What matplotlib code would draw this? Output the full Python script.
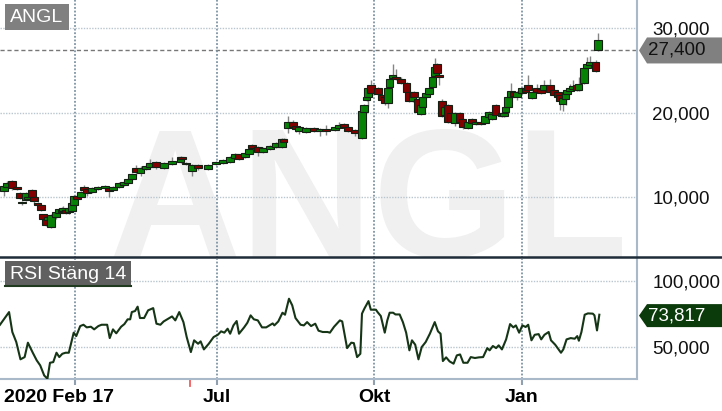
import matplotlib
matplotlib.use("Agg")
import matplotlib.pyplot as plt
from matplotlib.patches import Rectangle, Polygon
from matplotlib.lines import Line2D
from matplotlib.transforms import IdentityTransform, blended_transform_factory
from matplotlib.ticker import FuncFormatter

plt.rcParams['font.family'] = ['Liberation Sans', 'DejaVu Sans']

ticker = "ANGL"
rsi_title = "RSI Stäng 14"
start_label = "2020 Feb 17"
month_days = [32.3, 93.3, 160.9, 224.5]
month_labels = ["", "Jul", "Okt", "Jan"]
event_days = [81.7]
price_ticks = [10, 20, 30]
rsi_ticks = [50, 100]
last_price = 27.4
last_rsi = 73.817

# daily candles (trading-day index)
candle_day = [1.7, 3.0, 5.2, 7.3, 8.6, 9.5, 11.2, 12.0, 13.8, 14.6, 16.3, 17.6, 18.5, 19.8, 20.6,
              21.9, 24.1, 25.4, 26.7, 27.1, 28.4, 29.7, 31.0, 31.8, 33.1, 34.8, 36.1, 37.4, 39.6,
              42.1, 45.2, 46.9, 48.6, 51.2, 53.3, 55.1, 56.8, 58.5, 60.6, 62.8, 64.5, 67.1, 70.5,
              74.0, 77.8, 78.3, 80.0, 82.6, 85.2, 89.5, 92.9, 95.9, 98.9, 101.1, 102.8, 105.4,
              107.1, 108.4, 111.0, 113.1, 116.1, 118.7, 121.3, 122.1, 123.9, 126.0, 127.3, 128.6,
              131.6, 135.1, 137.6, 140.2, 144.1, 145.8, 148.0, 149.7, 152.7, 155.7, 156.6, 157.8,
              158.3, 159.6, 162.6, 164.3, 165.6, 166.9, 167.7, 169.0, 170.3, 172.5, 175.0, 175.9,
              177.6, 178.1, 179.8, 181.1, 181.9, 183.2, 184.5, 186.2, 187.1, 188.0, 188.8, 190.1,
              191.4, 192.7, 194.0, 195.7, 197.8, 199.1, 201.3, 203.0, 204.7, 206.9, 208.6, 210.3,
              211.6, 213.3, 215.9, 216.8, 217.6, 218.5, 219.8, 221.1, 222.4, 224.5, 226.2, 227.1,
              228.8, 231.0, 232.7, 234.0, 236.6, 238.3, 240.0, 240.9, 242.1, 243.4, 243.9, 245.2,
              246.4, 248.2, 249.0, 251.2, 252.5, 253.8, 256.3, 257.2]
candle_open = [10.77, 11.24, 11.95, 11.24, 10.53, 9.47, 9.70, 9.82, 10.89, 10.06, 9.35, 9.11, 8.05,
               7.46, 7.34, 6.51, 7.69, 8.17, 8.52, 8.40, 8.52, 8.28, 8.40, 9.11, 10.18, 10.06, 11.24,
               11.01, 10.65, 11.01, 11.12, 11.12, 10.89, 11.24, 11.48, 11.72, 12.19, 13.49, 12.90,
               13.37, 13.61, 14.20, 13.49, 13.96, 14.20, 14.79, 14.08, 13.14, 13.85, 13.37, 13.96,
               14.08, 14.20, 14.67, 15.15, 14.79, 15.15, 16.21, 15.98, 15.38, 15.74, 15.98, 15.98,
               16.92, 18.22, 18.93, 18.46, 17.87, 17.75, 18.22, 17.87, 18.11, 17.99, 18.22, 18.70,
               18.34, 17.99, 17.04, 20.12, 21.54, 21.89, 23.31, 22.96, 22.13, 21.89, 21.18, 23.08,
               24.14, 24.26, 24.02, 23.55, 22.49, 21.42, 22.49, 21.66, 19.88, 20.71, 21.89, 22.25,
               23.08, 24.38, 25.80, 24.50, 21.42, 19.76, 20.95, 20.00, 18.82, 20.00, 19.29, 18.22,
               19.29, 18.70, 18.93, 18.82, 19.53, 19.29, 20.95, 20.00, 19.64, 20.12, 20.71, 21.89,
               22.49, 21.89, 22.37, 22.96, 23.31, 21.78, 22.96, 22.84, 22.72, 23.31, 22.72, 22.49,
               22.13, 21.07, 21.66, 22.25, 22.60, 22.84, 23.31, 22.72, 23.55, 25.33, 25.68, 26.04,
               27.45]
candle_close = [11.36, 11.72, 11.12, 11.01, 9.94, 9.35, 10.53, 10.06, 10.06, 9.59, 9.11, 8.52, 7.46,
                6.75, 7.69, 7.93, 8.28, 8.64, 8.28, 8.76, 8.17, 8.76, 9.35, 10.18, 9.82, 10.65, 10.89,
                10.53, 11.12, 11.24, 11.36, 10.77, 11.24, 11.72, 11.83, 12.19, 12.78, 13.02, 13.49,
                13.73, 14.08, 13.61, 14.08, 14.32, 14.79, 14.56, 13.96, 13.85, 13.49, 13.85, 14.20,
                14.44, 14.79, 15.15, 14.56, 15.27, 15.74, 15.86, 15.38, 15.86, 16.09, 16.45, 16.92,
                16.57, 18.93, 18.34, 18.11, 18.34, 18.22, 17.87, 18.11, 17.87, 18.34, 18.58, 18.34,
                17.87, 17.63, 20.24, 20.95, 21.89, 22.96, 22.37, 22.25, 21.54, 21.18, 22.96, 24.02,
                24.50, 24.02, 23.55, 22.49, 21.42, 22.37, 21.89, 20.12, 20.95, 21.89, 22.37, 22.96,
                24.26, 25.45, 24.73, 24.26, 19.64, 20.71, 18.93, 18.93, 20.00, 18.93, 18.34, 18.93,
                18.82, 18.93, 18.70, 19.64, 20.12, 19.88, 19.76, 19.64, 20.00, 20.71, 21.89, 22.60,
                22.01, 22.49, 22.96, 22.49, 22.72, 22.49, 22.49, 22.37, 23.31, 22.49, 22.13, 21.89,
                21.42, 21.78, 22.37, 22.72, 22.96, 23.20, 22.72, 23.43, 25.33, 25.80, 26.04, 24.97,
                28.64]
candle_high = [11.60, 11.95, 12.10, 11.30, 10.65, 9.60, 10.65, 10.20, 11.00, 10.10, 9.50, 9.20, 8.10,
               7.50, 7.80, 8.00, 8.40, 8.80, 8.90, 9.00, 8.60, 9.00, 9.40, 10.30, 10.25, 10.80, 11.50,
               11.10, 11.20, 11.35, 11.45, 11.20, 11.35, 11.80, 11.95, 12.30, 12.90, 13.80, 13.70,
               13.85, 14.50, 14.30, 14.20, 14.80, 14.90, 14.85, 14.20, 14.00, 13.95, 14.00, 14.30,
               14.55, 14.90, 15.25, 15.20, 15.40, 15.90, 16.30, 16.05, 15.95, 16.20, 16.55, 17.00,
               17.00, 19.60, 19.20, 18.60, 18.45, 18.35, 18.40, 18.20, 18.60, 18.45, 18.90, 18.80,
               18.45, 18.10, 20.30, 21.10, 22.00, 23.10, 23.90, 23.10, 22.20, 22.00, 23.10, 24.20,
               25.80, 25.20, 24.30, 23.70, 22.60, 22.50, 22.60, 21.80, 21.10, 22.00, 22.50, 23.10,
               24.40, 26.50, 25.90, 24.60, 21.60, 20.90, 21.10, 20.10, 20.10, 20.10, 19.40, 19.00,
               19.40, 19.00, 19.00, 19.75, 20.25, 20.00, 21.05, 20.10, 20.10, 21.00, 22.20, 23.50,
               22.60, 22.60, 23.10, 23.05, 24.50, 22.60, 23.40, 22.95, 23.90, 24.00, 22.80, 22.60,
               22.20, 21.90, 22.50, 22.85, 23.40, 23.90, 23.40, 24.20, 25.60, 26.60, 26.80, 26.30,
               29.47]
candle_low = [10.18, 11.10, 10.90, 10.90, 9.80, 9.10, 9.60, 9.70, 10.00, 9.20, 9.00, 8.40, 7.30,
              6.60, 7.20, 6.39, 7.40, 8.00, 8.20, 8.30, 8.00, 8.10, 8.30, 9.00, 9.75, 10.00, 10.80,
              10.20, 10.50, 10.90, 11.00, 10.10, 10.80, 11.10, 11.40, 11.60, 12.10, 12.70, 12.50,
              13.20, 13.50, 13.40, 13.40, 13.80, 14.10, 14.40, 13.80, 12.50, 13.20, 13.30, 13.90,
              14.00, 14.10, 14.60, 14.40, 14.70, 15.10, 15.70, 14.90, 15.30, 15.60, 15.90, 15.90,
              16.50, 17.60, 18.20, 17.70, 17.50, 17.60, 17.70, 17.30, 17.40, 17.90, 18.10, 18.20,
              17.80, 17.30, 16.90, 20.00, 21.40, 20.80, 22.20, 22.10, 21.40, 21.00, 20.60, 22.90,
              24.00, 23.90, 23.40, 22.30, 21.30, 21.30, 21.70, 20.00, 19.80, 20.60, 21.80, 22.10,
              23.00, 24.30, 24.60, 23.30, 19.50, 19.60, 18.80, 18.80, 18.50, 18.80, 18.10, 18.10,
              18.70, 18.60, 18.60, 18.70, 19.40, 19.20, 19.70, 19.50, 19.50, 20.00, 20.60, 21.80,
              21.90, 21.50, 22.30, 22.40, 22.60, 21.70, 22.40, 22.30, 22.60, 22.40, 22.00, 21.80,
              20.40, 20.20, 21.00, 22.10, 22.50, 22.70, 22.60, 22.60, 23.40, 25.20, 25.55, 24.80,
              27.30]

rsi_day = [0.0, 3.9, 5.3, 7.0, 8.8, 10.6, 12.0, 14.1, 15.8, 17.3, 19.0, 20.4, 21.5, 22.9, 24.3,
           25.5, 26.8, 28.2, 29.6, 31.0, 31.7, 32.8, 34.5, 35.9, 37.3, 39.1, 40.5, 42.3, 43.7,
           46.1, 47.2, 48.6, 50.0, 52.1, 53.5, 54.9, 56.0, 56.7, 58.1, 59.2, 60.2, 62.0, 63.7,
           65.9, 67.3, 69.0, 70.4, 74.0, 75.4, 77.1, 78.9, 80.3, 82.1, 83.5, 85.2, 86.3, 87.7,
           89.8, 91.9, 93.7, 95.1, 96.5, 97.9, 99.0, 100.4, 101.8, 102.8, 105.0, 106.4, 107.8,
           109.2, 110.9, 112.7, 114.5, 115.9, 117.3, 118.0, 119.7, 121.5, 122.6, 124.3, 125.7,
           127.1, 129.3, 130.7, 132.1, 133.8, 135.6, 137.0, 138.8, 140.9, 141.9, 143.7, 146.2,
           147.2, 149.3, 151.1, 152.2, 153.6, 155.0, 155.7, 156.7, 158.5, 159.5, 161.7, 162.4,
           163.8, 165.5, 166.6, 167.6, 169.1, 170.1, 171.9, 173.3, 174.7, 176.1, 177.2, 178.6,
           180.0, 181.4, 183.1, 184.9, 187.0, 188.4, 189.5, 190.5, 191.9, 193.4, 195.1, 196.5,
           197.9, 199.3, 201.1, 202.5, 204.3, 206.0, 207.8, 209.6, 210.6, 212.0, 213.4, 214.5,
           215.9, 217.7, 219.4, 220.8, 221.9, 223.3, 224.7, 226.1, 227.2, 228.6, 230.0, 231.7,
           232.8, 234.2, 236.0, 237.0, 238.8, 241.3, 242.3, 243.7, 245.5, 247.2, 248.3, 249.0,
           250.1, 251.5, 252.9, 255.0, 255.7, 256.8, 257.8]
rsi_value = [66.9, 76.5, 61.4, 53.8, 40.7, 42.4, 53.3, 45.7, 39.9, 36.1, 28.5, 26.0, 38.1, 38.6, 45.7,
             42.4, 44.9, 45.7, 45.7, 55.8, 60.9, 58.3, 65.9, 66.9, 64.9, 65.4, 63.4, 65.9, 66.9,
             66.9, 56.8, 63.4, 60.4, 65.4, 67.4, 71.0, 71.0, 76.5, 77.3, 80.6, 72.0, 72.0, 77.8,
             79.5, 67.7, 66.9, 69.4, 73.2, 70.2, 76.5, 68.9, 57.6, 46.2, 55.1, 52.5, 54.3, 48.2,
             52.5, 57.6, 59.3, 61.9, 60.9, 63.9, 60.1, 66.4, 69.7, 60.1, 64.9, 68.4, 74.0,
             71.0, 70.2, 64.9, 64.9, 66.4, 67.9, 66.4, 69.4, 76.0, 74.5, 86.6, 81.6,
             72.0, 66.9, 66.4, 68.9, 65.9, 67.7, 62.4, 61.4, 61.4, 60.9, 65.4, 70.2,
             69.4, 49.2, 53.3, 53.0, 42.4, 44.9, 75.3, 79.0, 84.8, 78.3, 78.3, 76.5,
             73.5, 60.9, 70.2, 76.0, 76.0, 74.7, 74.7, 68.9, 60.9, 47.5, 55.1, 51.8,
             40.7, 50.0, 53.8, 60.1, 68.9, 61.9, 60.1, 39.4, 42.2, 39.1, 37.4, 43.7,
             44.4, 38.1, 38.1, 42.4, 41.7, 42.2, 42.4, 49.2, 47.5, 50.8, 49.2, 51.3,
             48.2, 55.8, 67.4, 64.9, 66.4, 60.9, 66.4, 65.2, 66.9, 55.1, 59.3, 59.8,
             55.8, 59.3, 61.4, 55.1, 51.8, 45.7, 48.2, 55.8, 56.8, 56.3, 58.3, 54.8,
             61.4, 74.5, 75.5, 75.3, 74.0, 62.6, 74.5]

W, H = 722, 411
fig = plt.figure(figsize=(W / 100, H / 100), dpi=100)
plot_w = 637
ax1 = fig.add_axes([0, 1 - 258 / H, plot_w / W, 258 / H])
ax2 = fig.add_axes([0, 32 / H, plot_w / W, 120 / H])

xmax = 274
fmt = FuncFormatter(lambda v, p: f"{v:.3f}".replace('.', ','))
grid_h = '#b9c6cf'
grid_v = '#7d93a3'
axis_col = '#a9b9c9'
fs = 13.5

# watermark
ax1.text(0.578, 0.004, ticker, transform=ax1.transAxes, ha='center', va='baseline',
         fontsize=132, fontweight='bold', color='#f0f0f0', zorder=0, clip_on=True)

# candles
green, red = '#078207', '#830000'
w = 3.1
for d, o, c, hi, lo in zip(candle_day, candle_open, candle_close, candle_high, candle_low):
    ax1.vlines(d, lo, hi, color='#858585', lw=1.0, zorder=2)
    col = green if c >= o else red
    bottom = min(o, c)
    h = max(abs(c - o), 0.14)
    ax1.add_patch(Rectangle((d - w / 2, bottom), w, h, facecolor=col,
                            edgecolor='#142014', lw=0.8, zorder=3))

ax1.axhline(last_price, color='#777777', lw=1.0, ls=(0, (3, 2)), zorder=1)

ax1.set_xlim(0, xmax)
ax1.set_ylim(2.84, 33.37)
ax1.set_yticks(price_ticks)
ax1.set_xticks(month_days)
ax1.yaxis.set_major_formatter(fmt)
ax1.yaxis.tick_right()
ax1.tick_params(axis='y', length=0, pad=11, labelsize=fs, labelcolor='#111111')
ax1.tick_params(axis='x', length=0, labelbottom=False)
ax1.grid(axis='y', color=grid_h, lw=1.0, ls=(0, (1, 1)))
ax1.grid(axis='x', color=grid_v, lw=1.3, ls=(0, (1, 1)))
for s in ['top', 'left', 'bottom']:
    ax1.spines[s].set_visible(False)
ax1.spines['right'].set_color(axis_col)
ax1.spines['right'].set_linewidth(1.5)

# RSI panel
ax2.plot(rsi_day, rsi_value, color='#163516', lw=1.5, zorder=3)
ax2.set_xlim(0, xmax)
ax2.set_ylim(25.8, 116.7)
ax2.set_yticks(rsi_ticks)
ax2.yaxis.set_major_formatter(fmt)
ax2.yaxis.tick_right()
ax2.tick_params(axis='y', length=0, pad=11, labelsize=fs, labelcolor='#111111')
ax2.set_xticks(month_days)
ax2.set_xticklabels(month_labels, fontweight='bold')
ax2.tick_params(axis='x', length=4, width=1.5, color='#8fa0b0', pad=3, labelsize=14,
                labelcolor='#000000')
ax2.grid(axis='y', color=grid_h, lw=1.0, ls=(0, (1, 1)))
ax2.grid(axis='x', color=grid_v, lw=1.3, ls=(0, (1, 1)))
for s in ['top', 'left']:
    ax2.spines[s].set_visible(False)
for s in ['right', 'bottom']:
    ax2.spines[s].set_color(axis_col)
    ax2.spines[s].set_linewidth(1.5)

ax2.annotate(start_label, xy=(0, 0), xycoords='axes fraction', xytext=(3, -7),
             textcoords='offset points', ha='left', va='top', fontsize=14,
             fontweight='bold', color='#000000')
tr = blended_transform_factory(ax2.transData, ax2.transAxes)
for d in event_days:
    ax2.plot([d, d], [-0.01, -0.06], transform=tr, color='#f25c5c', lw=1.3, clip_on=False)

# separator between panels
fig.add_artist(Line2D([0, 1], [1 - 257 / H] * 2, transform=fig.transFigure,
                      color='#1d2c38', lw=1.8))

# label boxes (display pixels)
ident = IdentityTransform()


def panel_label(x, y_top, width, text, fc, underline=None):
    fig.add_artist(Rectangle((x, H - y_top - 26), width, 26, facecolor=fc, edgecolor='none',
                             transform=ident))
    if underline:
        fig.add_artist(Line2D([x, x + width], [H - y_top - 25] * 2, color=underline, lw=1.5,
                              transform=ident))
    fig.text(x + 5, H - y_top - 13, text, transform=ident, ha='left', va='center',
             fontsize=14, color='white')


panel_label(5, 4, 64, ticker, '#808080')
panel_label(5, 261, 126, rsi_title, '#606060', underline='#1f3a1f')


def value_tag(ax, value, fc, tc, half=12):
    fig.canvas.draw()
    y = ax.transData.transform((0, value))[1]
    pts = [(639, y), (647, y + half), (W, y + half), (W, y - half), (647, y - half)]
    fig.add_artist(Polygon(pts, closed=True, facecolor=fc, edgecolor='none', transform=ident))
    fig.text(648, y, f"{value:.3f}".replace('.', ','), transform=ident, ha='left',
             va='center', fontsize=fs, color=tc)


value_tag(ax1, last_price, '#808080', '#111111', half=13)
value_tag(ax2, last_rsi, '#0b3a0b', 'white', half=11.5)

fig.savefig('out.png', dpi=100)
